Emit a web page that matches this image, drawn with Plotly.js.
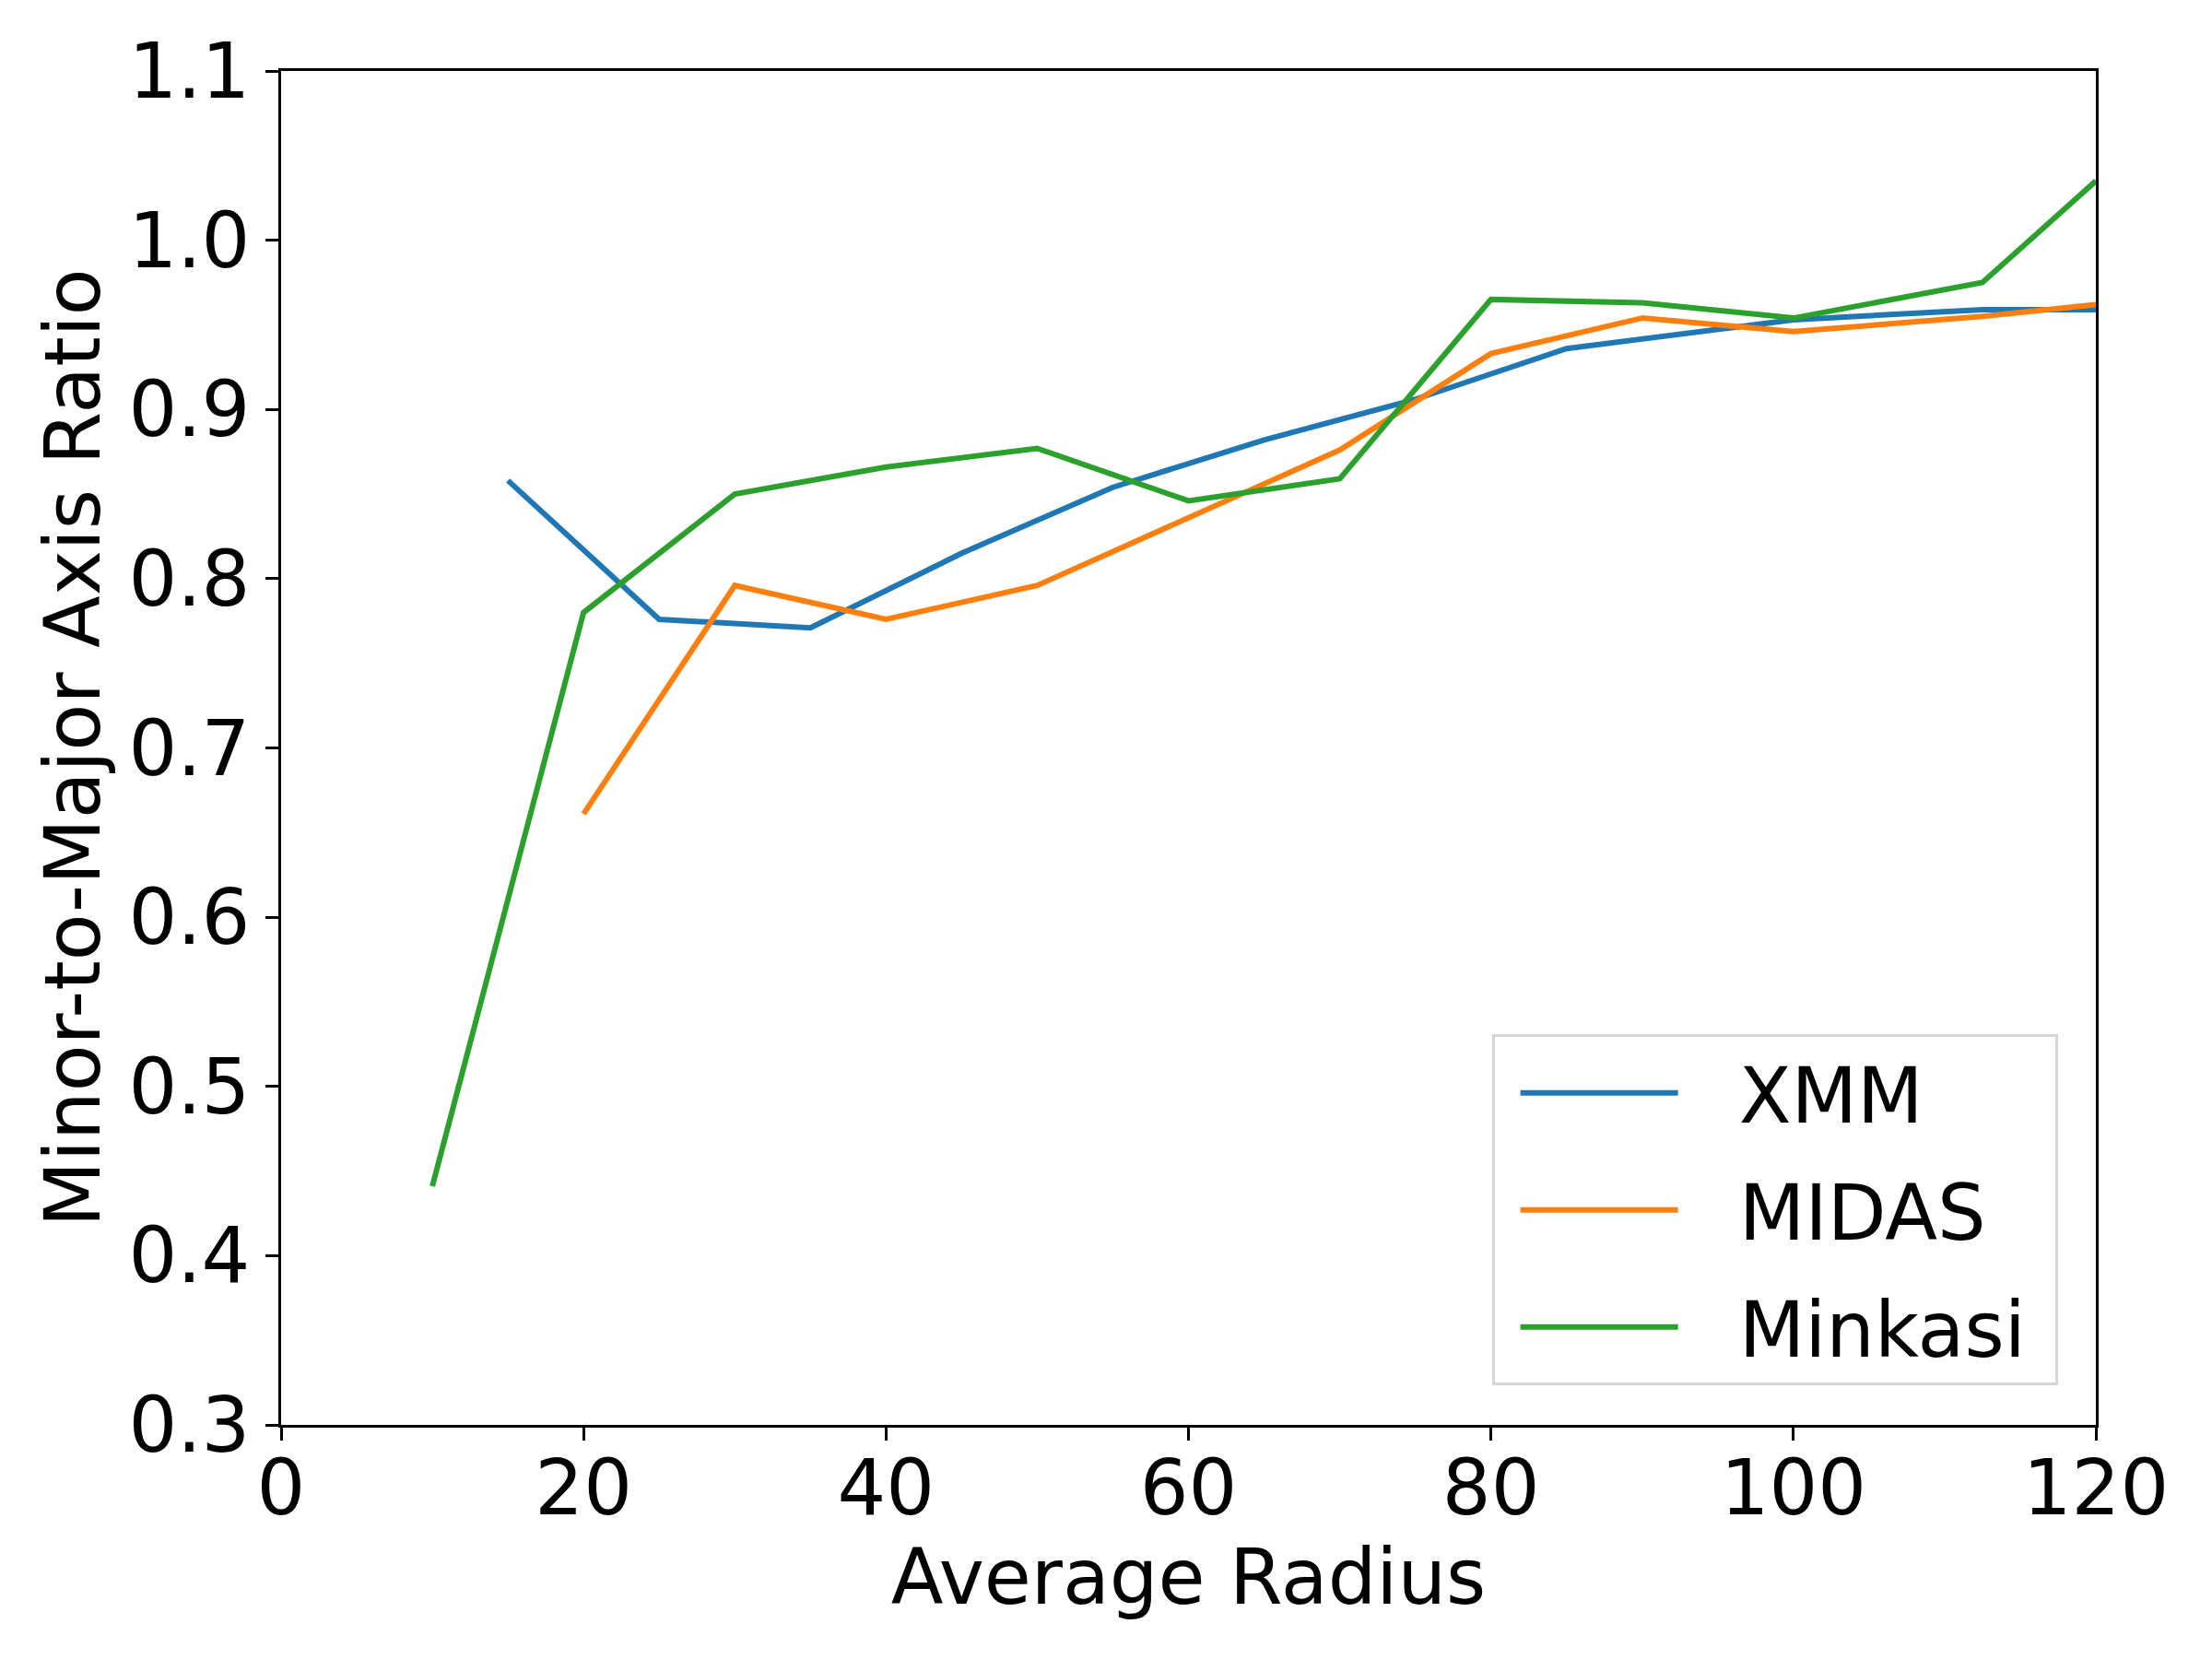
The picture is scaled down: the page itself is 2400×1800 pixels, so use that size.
<!DOCTYPE html>
<html>
<head>
<meta charset="utf-8">
<script src="https://cdn.plot.ly/plotly-3.0.1.min.js"></script>
<style>html,body{margin:0;padding:0;background:#fff;}#chart{width:2400px;height:1800px;}</style>
</head>
<body>
<div id="chart"></div>
<script>
const xmmR = [15, 25, 35, 45, 55, 65, 75, 85, 100, 112.5, 120];
const xmmV = [0.858, 0.776, 0.771, 0.815, 0.854, 0.882, 0.906, 0.936, 0.953, 0.959, 0.959];

const midasR = [20, 30, 40, 50, 60, 70, 80, 90, 100, 112.5, 120];
const midasV = [0.661, 0.796, 0.776, 0.796, 0.836, 0.876, 0.933, 0.954, 0.946, 0.955, 0.962];

const minkasiR = [10, 20, 30, 40, 50, 60, 70, 80, 90, 100, 112.5, 120];
const minkasiV = [0.441, 0.780, 0.850, 0.866, 0.877, 0.846, 0.859, 0.965, 0.963, 0.954, 0.975, 1.035];

const seriesNames = ['XMM', 'MIDAS', 'Minkasi'];
const seriesColors = ['#1f77b4', '#ff7f0e', '#2ca02c'];

const xTicks = [0, 20, 40, 60, 80, 100, 120];
const yTicks = [0.3, 0.4, 0.5, 0.6, 0.7, 0.8, 0.9, 1.0, 1.1];

const FONT = 'DejaVu Sans, Liberation Sans, sans-serif';
const xs = [xmmR, midasR, minkasiR];
const ys = [xmmV, midasV, minkasiV];

const traces = seriesNames.map((n, i) => ({
  x: xs[i], y: ys[i], name: n + '\u00a0', type: 'scatter', mode: 'lines',
  legendgroup: n,
  line: {color: seriesColors[i], width: 6}
}));

const axisCommon = {
  showgrid: false, zeroline: false,
  showline: true, linecolor: '#000', linewidth: 3, mirror: true,
  ticks: 'outside', ticklen: 14, tickwidth: 3, tickcolor: '#000',
  tickfont: {family: FONT, size: 83, color: '#000'}
};

const layout = {
  width: 2400, height: 1800,
  paper_bgcolor: '#fff', plot_bgcolor: '#fff',
  margin: {l: 305, r: 126, t: 77, b: 254},
  font: {family: FONT, size: 83, color: '#000'},
  xaxis: Object.assign({}, axisCommon, {
    range: [0, 120], tickvals: xTicks, ticktext: xTicks.map(String),
    ticklabelstandoff: -20,
    title: {text: 'Average Radius', font: {family: FONT, size: 83, color: '#000'}, standoff: 12}
  }),
  yaxis: Object.assign({}, axisCommon, {
    range: [0.3, 1.1], tickvals: yTicks, ticktext: yTicks.map(v => v.toFixed(1)),
    title: {text: 'Minor-to-Major Axis Ratio', font: {family: FONT, size: 83, color: '#000'}, standoff: 4}
  }),
  showlegend: true,
  legend: {
    x: 0.979, xanchor: 'right', y: 0.029, yanchor: 'bottom',
    bgcolor: 'rgba(255,255,255,0.8)', bordercolor: '#d6d6d6', borderwidth: 3,
    font: {family: FONT, size: 83, color: '#000'},
    itemwidth: 255, tracegroupgap: 16,
    traceorder: 'grouped'
  }
};

Plotly.newPlot('chart', traces, layout, {staticPlot: true}).then(() => {
  document.querySelectorAll('#chart .legendlines path').forEach(p => {
    p.setAttribute('d', 'M28,0h171');
  });
});
</script>
</body>
</html>
